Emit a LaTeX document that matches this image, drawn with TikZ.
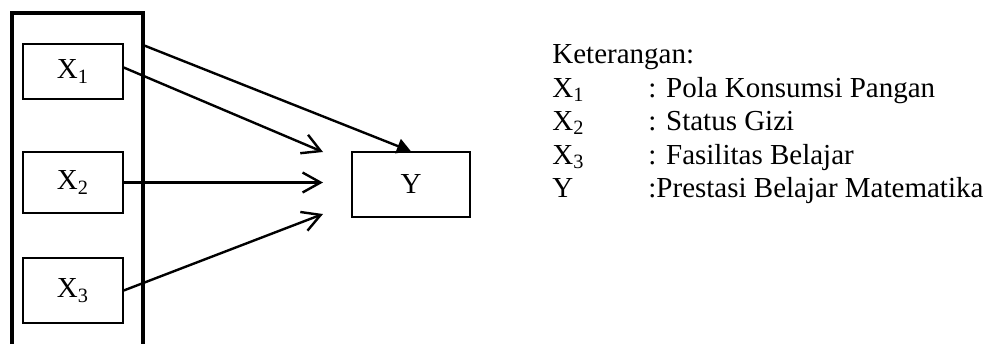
\documentclass[tikz,border=0pt]{standalone}
\usepackage{fontspec}
\setmainfont{Liberation Serif}
\usetikzlibrary{arrows.meta,positioning}
\tikzset{
  vbox/.style={draw, rectangle, line width=0.7pt, minimum width=50pt, align=center, font=\fontsize{14.5}{17}\selectfont},
  lbl/.style={anchor=base west, inner sep=0pt, font=\fontsize{14.5}{17}\selectfont},
  arr/.style={-{Straight Barb[length=9pt, width=10pt, line width=1.2pt]}, line width=1.2pt},
  farr/.style={-{Triangle[length=7pt, width=7.5pt]}, line width=1.2pt},
}
\begin{document}
\begin{tikzpicture}[x=0.5pt, y=-0.5pt]
\useasboundingbox (0,0) rectangle (990,343);

% Frame
\draw[line width=2pt] (12,350) -- (12,13) -- (143,13) -- (143,350);
\coordinate (frameout) at (143,45);

% Variables
\node[vbox, minimum height=27.5pt] (x1) at (73,71.5) {X\textsubscript{1}};
\node[vbox, minimum height=30.5pt] (x2) at (73,182.5) {X\textsubscript{2}};
\node[vbox, minimum height=32.5pt] (x3) at (73,290.5) {X\textsubscript{3}};
\node[vbox, minimum width=59pt, minimum height=32.5pt] (y) at (411,184.5) {Y};

% Arrows
\coordinate (in1) at (323,152);
\coordinate (in2) at (323,182.5);
\coordinate (in3) at (323,214);
\draw[arr] ([yshift=2pt]x1.east) -- (in1);
\draw[arr] (x2.east) -- (in2);
\draw[arr] (x3.east) -- (in3);
\draw[farr] (frameout) -- (y.north);

% Legend
\node[lbl] (ket) at (552,63) {Keterangan:};
\node[lbl] (k1) at (552,97) {X\textsubscript{1}};
\node[lbl] (d1) at (648,97) {: Pola Konsumsi Pangan};
\node[lbl] (k2) at (552,130.5) {X\textsubscript{2}};
\node[lbl] (d2) at (648,130.5) {: Status Gizi};
\node[lbl] (k3) at (552,164) {X\textsubscript{3}};
\node[lbl] (d3) at (648,164) {: Fasilitas Belajar};
\node[lbl] (ky) at (552,197.5) {Y};
\node[lbl] (dy) at (648,197.5) {:Prestasi Belajar Matematika};

\end{tikzpicture}
\end{document}
